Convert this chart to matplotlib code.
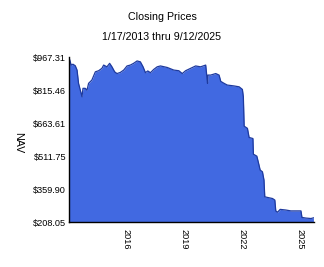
import matplotlib
matplotlib.use("Agg")
import matplotlib.pyplot as plt
import pandas as pd

dates = ["2013-01-17", "2013-02-27", "2013-04-01", "2013-05-15", "2013-06-18",
         "2013-07-16", "2013-08-18", "2013-09-20", "2013-10-08", "2013-11-20",
         "2013-12-24", "2014-01-22", "2014-03-25", "2014-05-30", "2014-07-31",
         "2014-10-01", "2014-11-03", "2015-01-04", "2015-02-24", "2015-04-09",
         "2015-05-30", "2015-07-13", "2015-09-13", "2015-11-17", "2016-01-19",
         "2016-03-21", "2016-05-22", "2016-07-27", "2016-09-27", "2016-11-17",
         "2017-01-01", "2017-02-14", "2017-04-06", "2017-06-07", "2017-08-11",
         "2017-10-12", "2018-02-17", "2018-06-21", "2018-09-24", "2018-11-28",
         "2019-01-30", "2019-05-05", "2019-08-08", "2019-11-10", "2020-02-14",
         "2020-03-20", "2020-03-27", "2020-04-16", "2020-05-18", "2020-08-22",
         "2020-10-24", "2020-11-25", "2021-01-26", "2021-03-29", "2021-08-04",
         "2021-11-07", "2022-01-08", "2022-01-26", "2022-02-10", "2022-04-13",
         "2022-05-15", "2022-07-26", "2022-08-04", "2022-10-08", "2022-11-18",
         "2022-12-10", "2023-01-22", "2023-02-20", "2023-03-07", "2023-04-27",
         "2023-07-31", "2023-09-13", "2023-10-01", "2023-11-03", "2023-12-24",
         "2024-04-09", "2024-07-13", "2025-01-19", "2025-02-07", "2025-04-23",
         "2025-07-27", "2025-09-12"]
nav = [967.31, 932, 936, 929, 909,
       848, 817, 786, 825, 825,
       817, 848, 863, 901, 906,
       917, 932, 924, 940, 924,
       901, 893, 898, 909, 928,
       932, 940, 951, 947, 924,
       897, 905, 897, 912, 924,
       928, 921, 909, 906, 893,
       906, 917, 928, 924, 932,
       848, 886, 886, 886, 893,
       886, 857, 848, 840, 836,
       832, 820, 786, 651, 641,
       599, 594, 522, 513, 472,
       449, 441, 403, 326, 323,
       318, 311, 261, 255, 268,
       265, 261, 261, 231, 228,
       226, 229]

yticks = [208.05, 359.90, 511.75, 663.61, 815.46, 967.31]
ytick_labels = ["$208.05", "$359.90", "$511.75", "$663.61", "$815.46", "$967.31"]
xtick_years = ["2016", "2019", "2022", "2025"]

plt.rcParams['font.family'] = ['Liberation Sans', 'DejaVu Sans']

x = pd.to_datetime(dates)
fig = plt.figure(figsize=(3.24, 2.67), dpi=100)
ax = fig.add_axes([0.213, 0.167, 0.756, 0.618])

ax.fill_between(x, yticks[0], nav, color="#4169E1", linewidth=0)
ax.plot(x, nav, color="#1E3A9E", linewidth=0.9)

ax.set_ylim(yticks[0], yticks[-1])
ax.set_xlim(pd.Timestamp("2013-01-17"), pd.Timestamp("2025-09-22"))
ax.set_yticks(yticks)
ax.set_yticklabels(ytick_labels, fontsize=6.6)
ax.set_xticks(pd.to_datetime([y + "-01-01" for y in xtick_years]))
ax.set_xticklabels(xtick_years, fontsize=6.6, rotation=270)
ax.tick_params(axis="y", length=0, pad=2)
ax.tick_params(axis="x", length=0, pad=5)

for s in ["top", "right"]:
    ax.spines[s].set_visible(False)
for s in ["left", "bottom"]:
    ax.spines[s].set_color("black")
    ax.spines[s].set_linewidth(1.0)

fig.text(18 / 324, 1 - 143 / 267, "NAV", rotation=270, fontsize=7.7,
         ha="center", va="center")

fig.text(0.5, 0.937, "Closing Prices", ha="center", va="center", fontsize=7.7)
fig.text(0.5, 0.862, "1/17/2013 thru 9/12/2025", ha="center", va="center", fontsize=7.7)

fig.savefig("out.png", dpi=100)
